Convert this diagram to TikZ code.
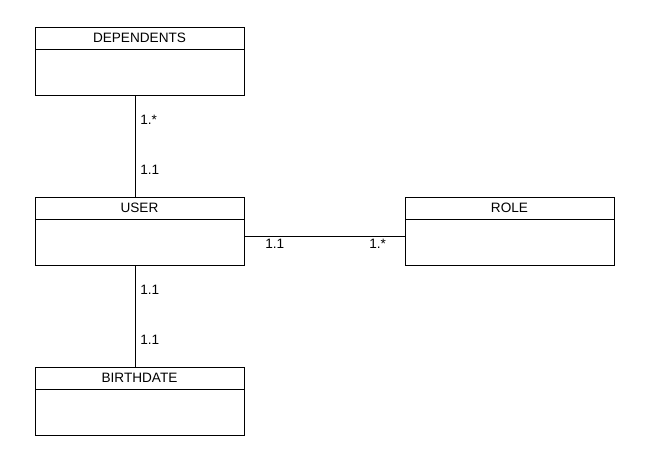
\documentclass[tikz,border=0pt]{standalone}
\usepackage{fontspec}
\setmainfont{Liberation Sans}
\usetikzlibrary{positioning}

\tikzset{
	umlhead/.style={draw, line width=0.75pt, outer sep=0pt, minimum width=156.75pt, minimum height=16.5pt, inner sep=0pt, font=\fontsize{10.2}{12}\selectfont},
	umlbody/.style={draw, line width=0.75pt, outer sep=0pt, minimum width=156.75pt, minimum height=34.5pt, inner sep=0pt},
	mult/.style={anchor=west, inner sep=0pt, font=\fontsize{10.2}{12}\selectfont},
	link/.style={line width=0.75pt}
}

\begin{document}
\begin{tikzpicture}[x=0.75pt, y=-0.75pt]
		%%%%% START %%%%%
		
		\useasboundingbox (0, 0) rectangle (653, 461);
		
		% entities
		\node[umlhead] (dep) at (139.5, 38) {DEPENDENTS};
		\node[umlbody, below=0pt of dep] (depb) {};
		
		\node[umlhead] (user) at (139.5, 208) {USER};
		\node[umlbody, below=0pt of user] (userb) {};
		
		\node[umlhead] (birth) at (139.5, 378) {BIRTHDATE};
		\node[umlbody, below=0pt of birth] (birthb) {};
		
		\node[umlhead] (role) at (509.5, 208) {ROLE};
		\node[umlbody, below=0pt of role] (roleb) {};
		
		% relations
		\draw[link] ([xshift=-3pt]depb.south) -- ([xshift=-3pt]user.north);
		\draw[link] ([xshift=-3pt]userb.south) -- ([xshift=-3pt]birth.north);
		\draw[link] ([yshift=4.5pt]userb.east) -- ([yshift=4.5pt]roleb.west);
		
		% multiplicities
		\node[mult] (m1) at (140, 120) {1.*};
		\node[mult] (m2) at (140, 170) {1.1};
		\node[mult] (m3) at (140, 290) {1.1};
		\node[mult] (m4) at (140, 340) {1.1};
		\node[mult] (m5) at (265, 244) {1.1};
		\node[mult] (m6) at (369, 244) {1.*};
		
		%%%%% END %%%%%
\end{tikzpicture}
\end{document}
